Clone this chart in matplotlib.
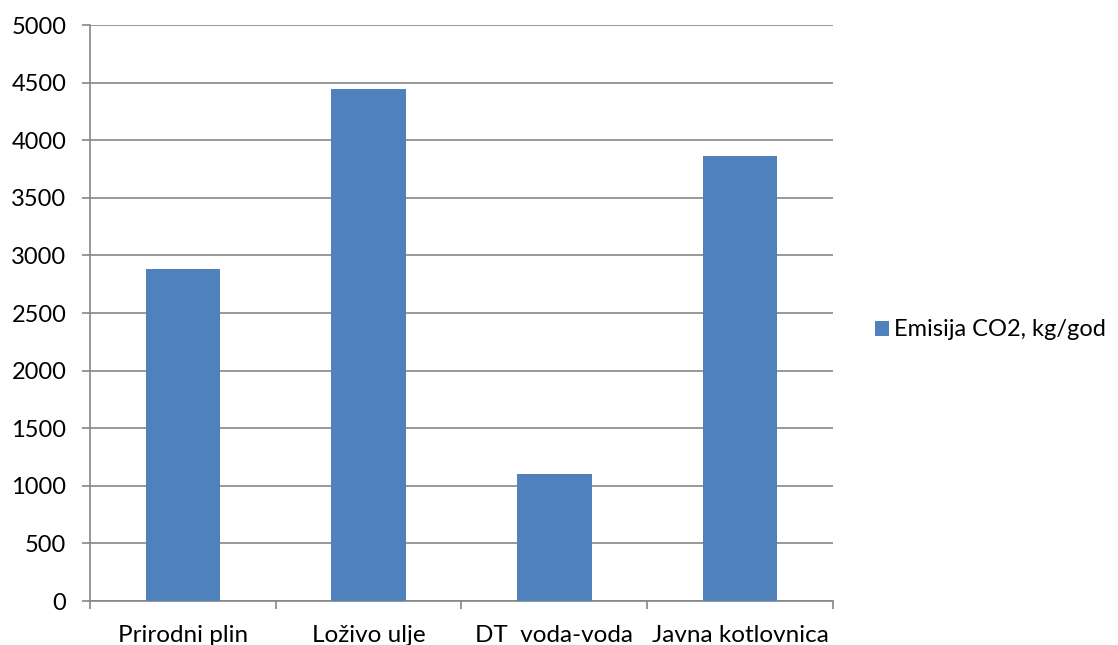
import matplotlib
matplotlib.use("Agg")
import matplotlib.pyplot as plt
import numpy as np

categories = ["Prirodni plin", "Loživo ulje", "DT  voda-voda", "Javna kotlovnica"]
values = [2880, 4445, 1105, 3865]
series_name = "Emisija CO2, kg/god"
yticks = [0, 500, 1000, 1500, 2000, 2500, 3000, 3500, 4000, 4500, 5000]

plt.rcParams['font.family'] = ['Lato', 'DejaVu Sans']
FS = 17.5

fig = plt.figure(figsize=(11.18, 6.45), dpi=100)
ax = fig.add_axes([90/1118, 44/645, (833-90)/1118, (601-25)/645])

x = np.arange(len(categories))
bars = ax.bar(x, values, width=0.4, color="#4F81BD", label=series_name, zorder=3)

ax.set_xlim(-0.5, len(categories) - 0.5)
ax.set_ylim(0, 5000)
ax.set_yticks(yticks)
ax.set_yticklabels([str(v) for v in yticks], fontsize=17)
ax.yaxis.grid(True, color="#868686", linewidth=1.2, zorder=0)
ax.set_axisbelow(True)

ax.set_xticks(np.arange(len(categories) + 1) - 0.5)
ax.set_xticklabels([])
ax.set_xticks(x, minor=True)
ax.set_xticklabels(categories, minor=True, fontsize=FS)
ax.tick_params(axis='x', which='minor', length=0, pad=17)
ax.tick_params(axis='x', which='major', length=6, color="#868686", width=1.2)
ax.tick_params(axis='y', length=6, color="#868686", width=1.2, pad=11)

for s in ["top", "right"]:
    ax.spines[s].set_visible(False)
for s in ["left", "bottom"]:
    ax.spines[s].set_color("#868686")
    ax.spines[s].set_linewidth(1.2)

leg = fig.legend(handles=[bars], labels=[series_name], loc="center left",
                 bbox_to_anchor=(875/1118, (645-330)/645), frameon=False,
                 borderpad=0, borderaxespad=0,
                 fontsize=17, handlelength=0.6, handleheight=0.6, handletextpad=0.2)

fig.savefig("out.png", dpi=100)
